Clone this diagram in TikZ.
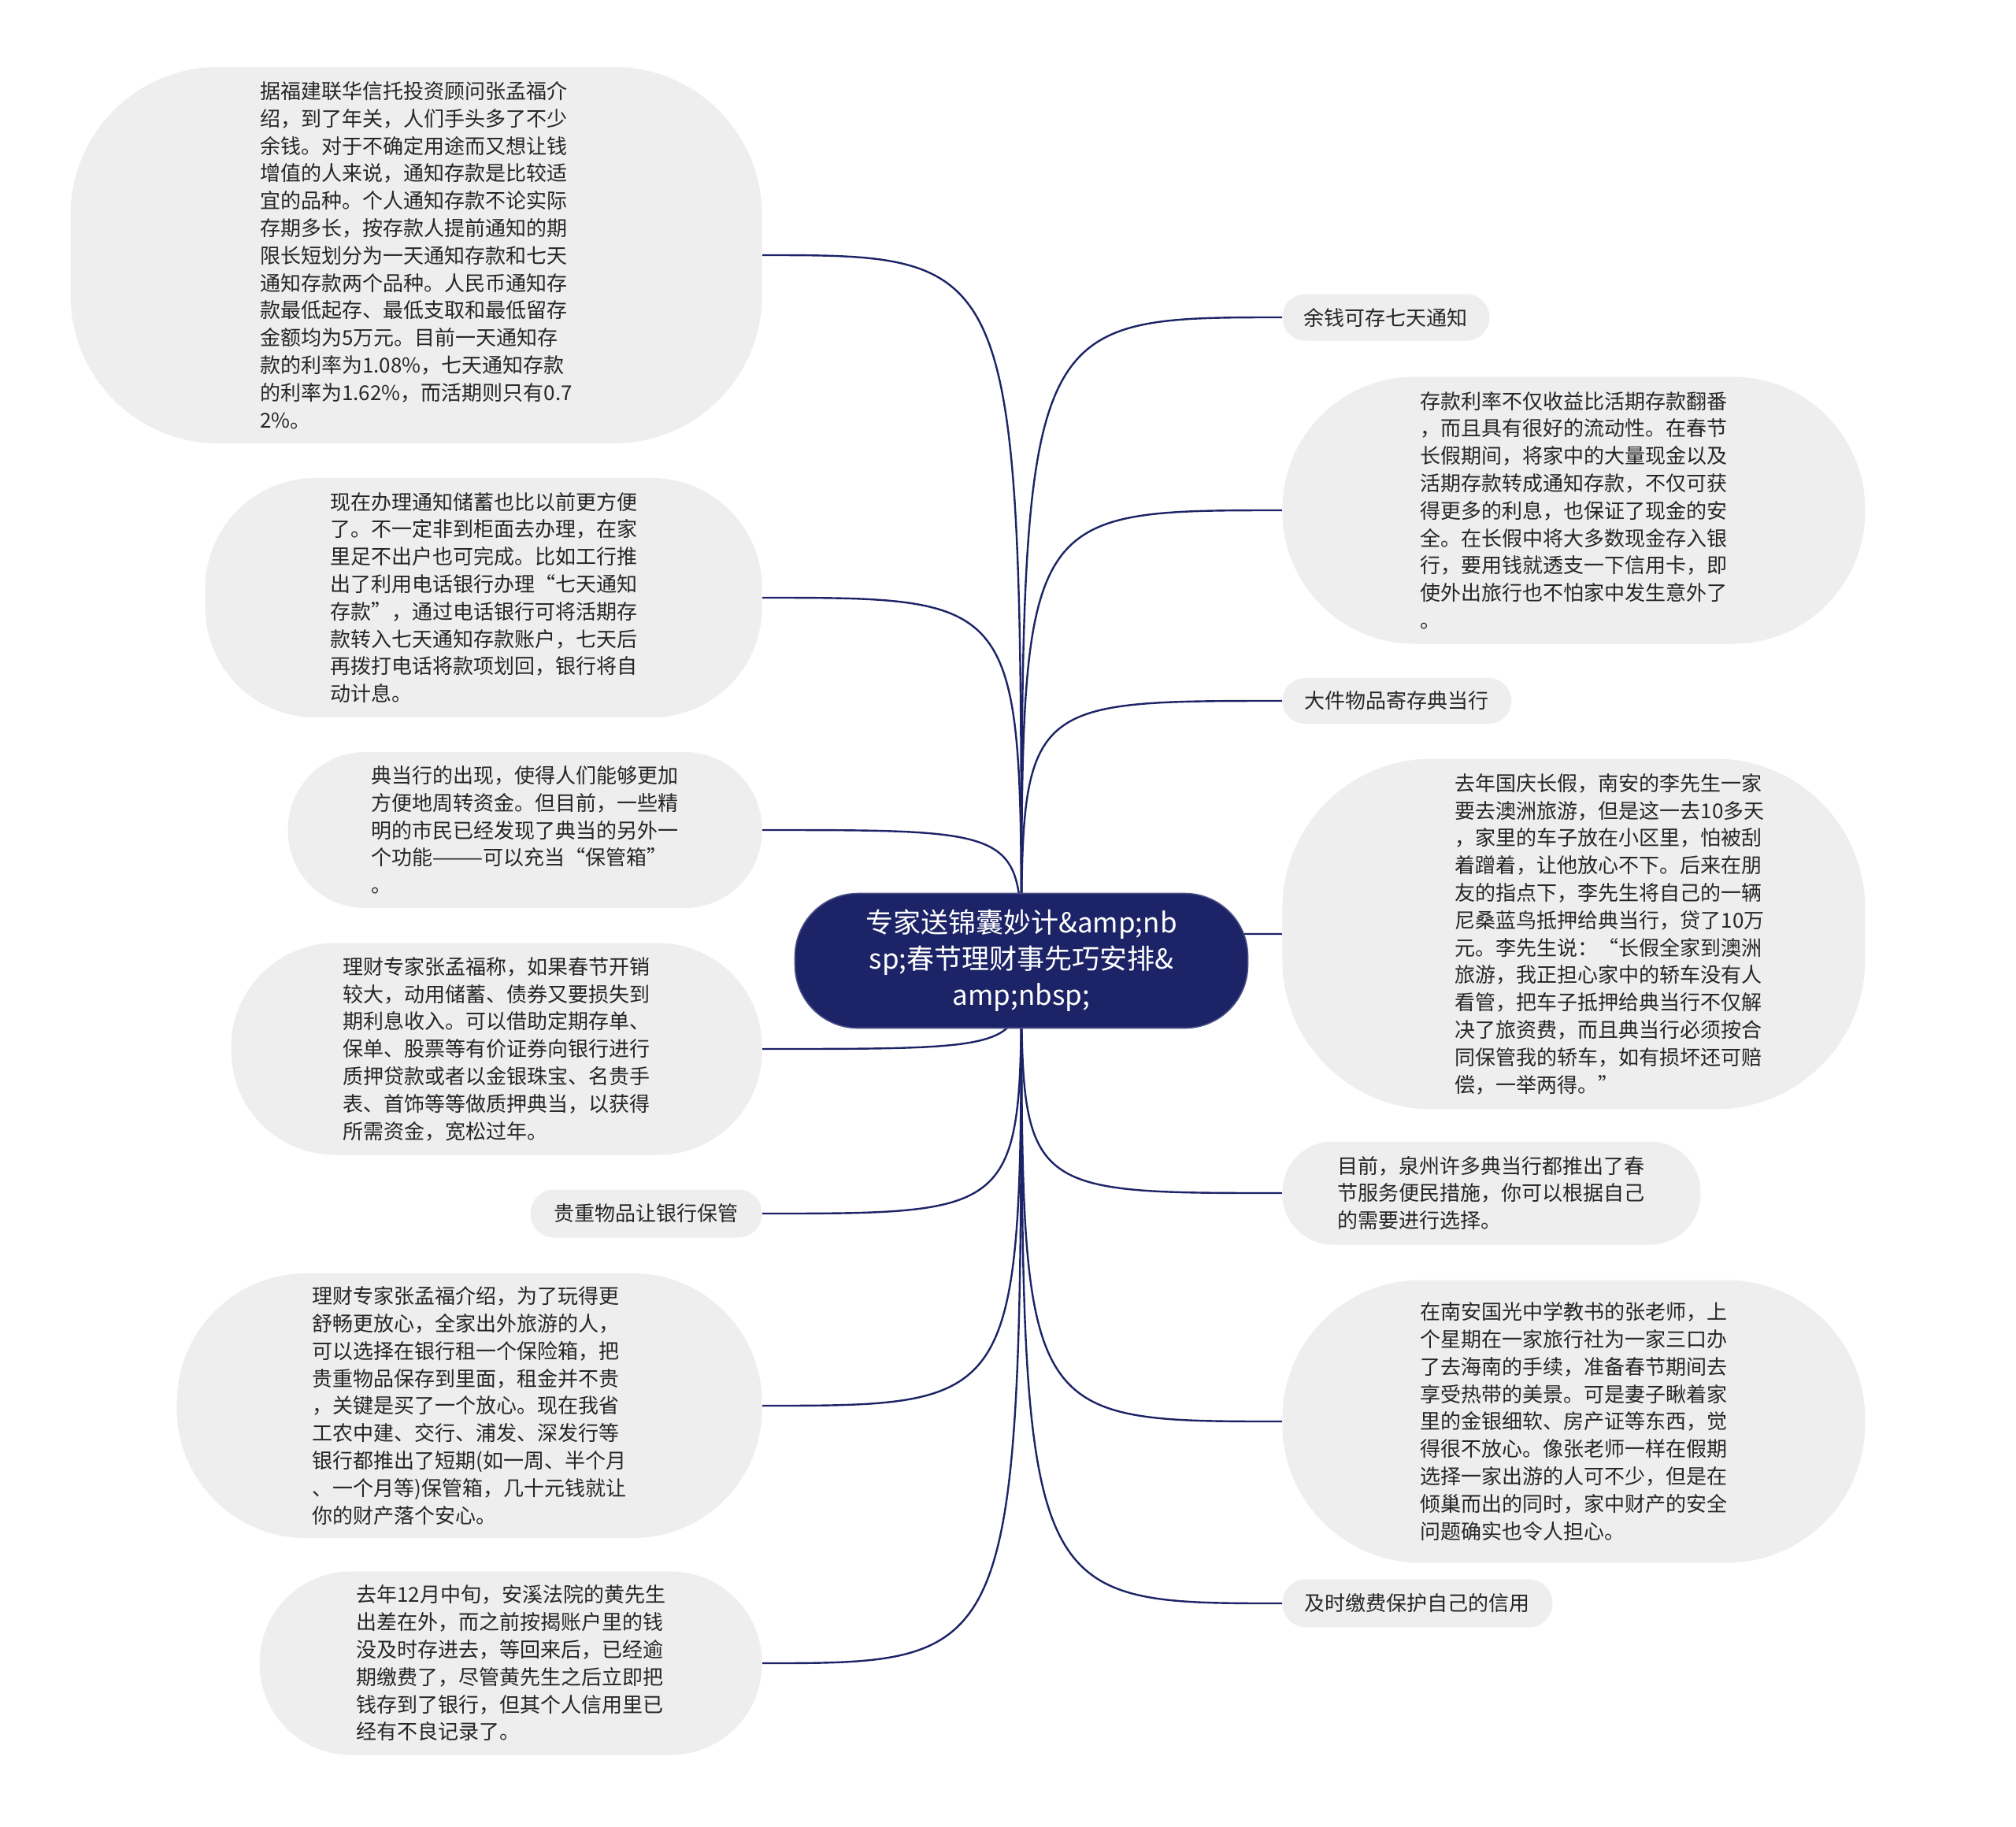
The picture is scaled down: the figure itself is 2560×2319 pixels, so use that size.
\documentclass[tikz,border=0pt]{standalone}
\usepackage{fontspec}
\setmainfont{Noto Sans CJK SC}
\usetikzlibrary{backgrounds}
\definecolor{navy}{HTML}{1C2366}
\definecolor{leafgray}{HTML}{EEEEEE}
\definecolor{leaftext}{HTML}{262626}
\newcommand{\leaffont}{\fontsize{13pt}{17.4pt}\selectfont}
\newcommand{\rootfont}{\fontsize{17.5pt}{23pt}\selectfont}

\begin{document}
\begin{tikzpicture}[x=0.5pt, y=-0.5pt,
		leaf/.style={fill=leafgray, text=leaftext, font=\leaffont, align=left, inner sep=0pt, rounded corners=#1},
		leaftxt/.style={text=leaftext, font=\leaffont, align=left, inner sep=0pt},
		root/.style={fill=navy, draw=navy!80!white, line width=0.8pt, text=white, font=\rootfont, align=center,
			inner sep=0pt, rounded corners=40pt, minimum width=287.5pt, minimum height=85.5pt},
		edge/.style={draw=navy, line width=1.2pt}]
	\useasboundingbox (0,0) rectangle (2560,2319);

	\node[root] (root) at (1297,1220) {专家送锦囊妙计\&amp;nb\\sp;春节理财事先巧安排\&\\amp;nbsp;};

	% left side
	\node[leaf=94pt, minimum width=439pt, minimum height=239pt, anchor=east] (L1) at (968,324)
		{据福建联华信托投资顾问张孟福介\\绍，到了年关，人们手头多了不少\\余钱。对于不确定用途而又想让钱\\增值的人来说，通知存款是比较适\\宜的品种。个人通知存款不论实际\\存期多长，按存款人提前通知的期\\限长短划分为一天通知存款和七天\\通知存款两个品种。人民币通知存\\款最低起存、最低支取和最低留存\\金额均为5万元。目前一天通知存\\款的利率为1.08\%，七天通知存款\\的利率为1.62\%，而活期则只有0.7\\2\%。};
	\node[leaf=70pt, minimum width=353.5pt, minimum height=152pt, anchor=east] (L2) at (968,759)
		{现在办理通知储蓄也比以前更方便\\了。不一定非到柜面去办理，在家\\里足不出户也可完成。比如工行推\\出了利用电话银行办理“七天通知\\存款”，通过电话银行可将活期存\\款转入七天通知存款账户，七天后\\再拨打电话将款项划回，银行将自\\动计息。};
	\node[leaf=49pt, minimum width=301pt, minimum height=99pt, anchor=east] (L3) at (968,1054)
		{典当行的出现，使得人们能够更加\\方便地周转资金。但目前，一些精\\明的市民已经发现了典当的另外一\\个功能———可以充当“保管箱”\\。};
	\node[leaf=66pt, minimum width=337pt, minimum height=134.5pt, anchor=east] (L4) at (968,1332)
		{理财专家张孟福称，如果春节开销\\较大，动用储蓄、债券又要损失到\\期利息收入。可以借助定期存单、\\保单、股票等有价证券向银行进行\\质押贷款或者以金银珠宝、名贵手\\表、首饰等等做质押典当，以获得\\所需资金，宽松过年。};
	\node[leaf=15pt, minimum width=147pt, minimum height=30.5pt, anchor=east] (L5) at (968,1541)
		{贵重物品让银行保管};
	\node[leaf=82pt, minimum width=371.5pt, minimum height=168pt, anchor=east] (L6) at (968,1785)
		{理财专家张孟福介绍，为了玩得更\\舒畅更放心，全家出外旅游的人，\\可以选择在银行租一个保险箱，把\\贵重物品保存到里面，租金并不贵\\，关键是买了一个放心。现在我省\\工农中建、交行、浦发、深发行等\\银行都推出了短期(如一周、半个月\\、一个月等)保管箱，几十元钱就让\\你的财产落个安心。};
	\node[leaf=58pt, minimum width=319pt, minimum height=116.5pt, anchor=east] (L7) at (968,2112)
		{去年12月中旬，安溪法院的黄先生\\出差在外，而之前按揭账户里的钱\\没及时存进去，等回来后，已经逾\\期缴费了，尽管黄先生之后立即把\\钱存到了银行，但其个人信用里已\\经有不良记录了。};

	% right side
	\node[leaf=14.5pt, minimum width=131.5pt, minimum height=29.5pt, anchor=west] (R1) at (1628,403)
		{余钱可存七天通知};
	\node[leaf=84pt, minimum width=370pt, minimum height=169.5pt, anchor=west] (R2) at (1628,648)
		{存款利率不仅收益比活期存款翻番\\，而且具有很好的流动性。在春节\\长假期间，将家中的大量现金以及\\活期存款转成通知存款，不仅可获\\得更多的利息，也保证了现金的安\\全。在长假中将大多数现金存入银\\行，要用钱就透支一下信用卡，即\\使外出旅行也不怕家中发生意外了\\。};
	\node[leaf=14.5pt, minimum width=145.5pt, minimum height=29pt, anchor=west] (R3) at (1628,890)
		{大件物品寄存典当行};
	\node[leaf=95pt, minimum width=370pt, minimum height=222.5pt, anchor=west] (R4) at (1628,1186) {};
	\node[leaftxt] (R4text) at ([xshift=23pt]R4.center)
		{去年国庆长假，南安的李先生一家\\要去澳洲旅游，但是这一去10多天\\，家里的车子放在小区里，怕被刮\\着蹭着，让他放心不下。后来在朋\\友的指点下，李先生将自己的一辆\\尼桑蓝鸟抵押给典当行，贷了10万\\元。李先生说：“长假全家到澳洲\\旅游，我正担心家中的轿车没有人\\看管，把车子抵押给典当行不仅解\\决了旅资费，而且典当行必须按合\\同保管我的轿车，如有损坏还可赔\\偿，一举两得。”};
	\node[leaf=32pt, minimum width=265.5pt, minimum height=65.5pt, anchor=west] (R5) at (1628,1515)
		{目前，泉州许多典当行都推出了春\\节服务便民措施，你可以根据自己\\的需要进行选择。};
	\node[leaf=88pt, minimum width=370pt, minimum height=179.5pt, anchor=west] (R6) at (1628,1805)
		{在南安国光中学教书的张老师，上\\个星期在一家旅行社为一家三口办\\了去海南的手续，准备春节期间去\\享受热带的美景。可是妻子瞅着家\\里的金银细软、房产证等东西，觉\\得很不放心。像张老师一样在假期\\选择一家出游的人可不少，但是在\\倾巢而出的同时，家中财产的安全\\问题确实也令人担心。};
	\node[leaf=15pt, minimum width=171.5pt, minimum height=30.5pt, anchor=west] (R7) at (1628,2036)
		{及时缴费保护自己的信用};

	% connectors, under the root
	\begin{scope}[on background layer]
		\fill[white] (0,0) rectangle (2560,2319);
		\draw[edge] (root.center) .. controls (root.center |- L1.east) .. (L1.east);
		\draw[edge] (root.center) .. controls (root.center |- L2.east) .. (L2.east);
		\draw[edge] (root.center) .. controls (root.center |- L3.east) .. (L3.east);
		\draw[edge] (root.center) .. controls (root.center |- L4.east) .. (L4.east);
		\draw[edge] (root.center) .. controls (root.center |- L5.east) .. (L5.east);
		\draw[edge] (root.center) .. controls (root.center |- L6.east) .. (L6.east);
		\draw[edge] (root.center) .. controls (root.center |- L7.east) .. (L7.east);
		\draw[edge] (root.center) .. controls (root.center |- R1.west) .. (R1.west);
		\draw[edge] (root.center) .. controls (root.center |- R2.west) .. (R2.west);
		\draw[edge] (root.center) .. controls (root.center |- R3.west) .. (R3.west);
		\draw[edge] (root.center) .. controls (root.center |- R4.west) .. (R4.west);
		\draw[edge] (root.center) .. controls (root.center |- R5.west) .. (R5.west);
		\draw[edge] (root.center) .. controls (root.center |- R6.west) .. (R6.west);
		\draw[edge] (root.center) .. controls (root.center |- R7.west) .. (R7.west);
	\end{scope}
\end{tikzpicture}
\end{document}
